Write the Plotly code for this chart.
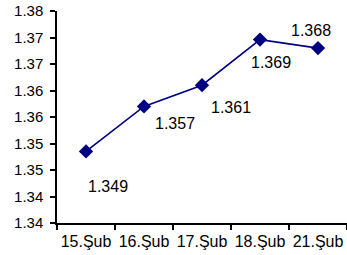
import plotly.graph_objects as go

categories = ["15.Şub", "16.Şub", "17.Şub", "18.Şub", "21.Şub"]
values = [1.3485, 1.357, 1.361, 1.3696, 1.368]
value_labels = ["1.349", "1.357", "1.361", "1.369", "1.368"]
y_tick_values = [1.335, 1.340, 1.345, 1.350, 1.355, 1.360, 1.365, 1.370, 1.375]
y_tick_labels = ["1.34", "1.34", "1.35", "1.35", "1.36", "1.36", "1.37", "1.37", "1.38"]

# label offsets (pixels) relative to each point: (x, y-up)
label_offsets = [(22, -35), (31, -17), (29, -22), (11, -23), (-7, 18)]

NAVY = "#000080"
FONT = "Liberation Sans, Arial, sans-serif"

fig = go.Figure()
fig.add_trace(go.Scatter(
    x=categories, y=values, mode="lines+markers",
    line=dict(color=NAVY, width=1.6),
    marker=dict(symbol="diamond", size=11, color=NAVY),
    hoverinfo="skip", showlegend=False,
))

for c, v, t, (dx, dy) in zip(categories, values, value_labels, label_offsets):
    fig.add_annotation(x=c, y=v, text=t, showarrow=False,
                       xshift=dx, yshift=dy,
                       font=dict(family=FONT, size=16, color="black"))

fig.update_layout(
    width=347, height=255,
    margin=dict(l=57, r=0, t=11, b=32, autoexpand=False),
    paper_bgcolor="white", plot_bgcolor="white",
    font=dict(family=FONT, size=15, color="black"),
    xaxis=dict(
        type="category", range=[-0.5, 4.5],
        showline=True, linecolor="black", linewidth=1.5,
        ticks="outside", tickson="boundaries", ticklen=5, tickcolor="black", tickwidth=1.5,
        showgrid=False, zeroline=False, ticklabelstandoff=3,
        tickangle=0, automargin=False,
        tickfont=dict(family=FONT, size=16, color="black"),
    ),
    yaxis=dict(
        range=[1.335, 1.375],
        tickvals=y_tick_values, ticktext=y_tick_labels,
        showline=True, linecolor="black", linewidth=1.5,
        ticks="outside", ticklen=5, tickcolor="black", tickwidth=1.5,
        showgrid=False, zeroline=False, ticklabelstandoff=4, automargin=False,
        tickfont=dict(family=FONT, size=15, color="black"),
    ),
)

fig.write_html("out.html", config={"displayModeBar": False},
               post_script="document.body.style.margin='0';document.body.style.padding='0';")
